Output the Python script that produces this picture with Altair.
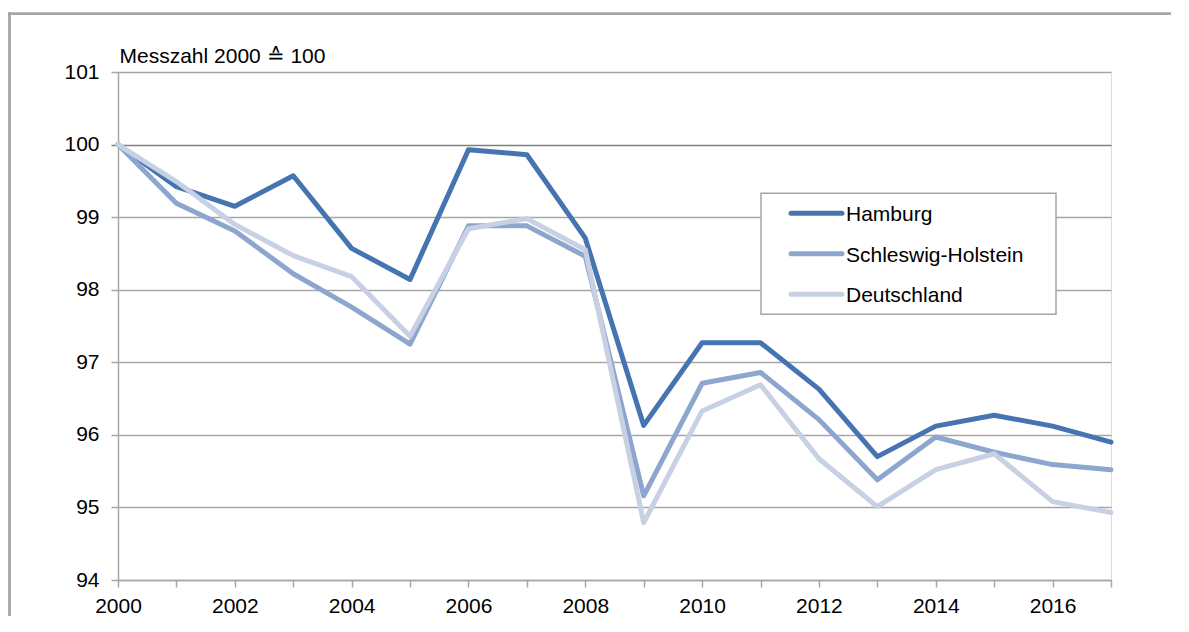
import altair as alt
import pandas as pd

years = list(range(2000, 2018))
hamburg = [100, 99.42, 99.15, 99.57, 98.57, 98.14, 99.93, 99.86, 98.71, 96.13,
           97.27, 97.27, 96.63, 95.70, 96.12, 96.27, 96.12, 95.90]
schleswig_holstein = [100, 99.19, 98.81, 98.22, 97.76, 97.25, 98.88, 98.88, 98.46, 95.16,
                      96.71, 96.86, 96.21, 95.38, 95.97, 95.76, 95.59, 95.52]
deutschland = [100, 99.49, 98.90, 98.47, 98.18, 97.36, 98.84, 98.98, 98.55, 94.79,
               96.33, 96.69, 95.67, 95.01, 95.52, 95.74, 95.08, 94.93]
series_names = ["Hamburg", "Schleswig-Holstein", "Deutschland"]
series_colors = ["#4674b1", "#8da6cd", "#c7d1e3"]
y_ticks = [94, 95, 96, 97, 98, 99, 100, 101]
y_title = "Messzahl 2000 \u2259 100"

FONT = "Liberation Sans"
FS = 21
GRID = "#a6a6a6"

rows = []
for name, vals in zip(series_names, [hamburg, schleswig_holstein, deutschland]):
    for yr, v in zip(years, vals):
        rows.append({"year": yr, "value": v, "series": name})
df = pd.DataFrame(rows)
legend_df = pd.DataFrame({"series": series_names})
one = pd.DataFrame({"k": [0]})

color_scale = alt.Scale(domain=series_names, range=series_colors)

frame_top = alt.Chart(one).mark_rule(stroke=GRID, strokeWidth=2.8).encode(
    x=alt.value(-110), x2=alt.value(1053), y=alt.value(-58.3))
frame_left = alt.Chart(one).mark_rule(stroke=GRID, strokeWidth=2.8).encode(
    x=alt.value(-108.5), y=alt.value(-59.7), y2=alt.value(544))

lines = alt.Chart(df).mark_line(strokeWidth=5, strokeCap="round", strokeJoin="round").encode(
    x=alt.X("year:Q",
            scale=alt.Scale(domain=[2000, 2017], nice=False, zero=False),
            axis=alt.Axis(values=years, format="d",
                          labelExpr="datum.value % 2 == 0 ? datum.label : ''",
                          labelFlush=False, labelOverlap=False,
                          grid=False, tickSize=7, labelPadding=8, title=None,
                          domainColor=GRID, tickColor=GRID, domainWidth=1.5, tickWidth=1.5,
                          labelFontSize=FS, labelColor="#000", labelFont=FONT)),
    y=alt.Y("value:Q",
            scale=alt.Scale(domain=[94, 101], nice=False, zero=False),
            axis=alt.Axis(values=y_ticks, title=y_title, titleAngle=0, titleX=1, titleY=-10,
                          titleAlign="left", titleBaseline="alphabetic", titleFontSize=FS,
                          titleFontWeight="normal", titleColor="#000", titleFont=FONT,
                          grid=True, labelFlush=False,
                          gridColor={"condition": {"test": "datum.value === 100", "value": "#7f7f7f"}, "value": GRID},
                          tickColor={"condition": {"test": "datum.value === 100", "value": "#7f7f7f"}, "value": GRID},
                          gridWidth=1.5, tickWidth=1.5, tickSize=7, labelPadding=12,
                          domainColor=GRID, domainWidth=1.5,
                          labelFontSize=FS, labelColor="#000", labelFont=FONT)),
    color=alt.Color("series:N", scale=color_scale, legend=None),
)

legend_box = alt.Chart(one).mark_rect(
    fill="white", stroke=GRID, strokeWidth=1.5
).encode(x=alt.value(643), x2=alt.value(938), y=alt.value(121.3), y2=alt.value(242.3))

entries = []
for i, name in enumerate(series_names):
    base = alt.Chart(legend_df).transform_filter(alt.datum.series == name)
    entries.append(base.mark_rule(strokeWidth=5, strokeCap="round").encode(
        x=alt.value(673), x2=alt.value(724), y=alt.value(141.3 + 40.5 * i),
        color=alt.Color("series:N", scale=color_scale, legend=None)))
    entries.append(base.mark_text(align="left", baseline="alphabetic", fontSize=FS,
                                  font=FONT, color="#000").encode(
        x=alt.value(728), y=alt.value(149 + 40.5 * i), text="series:N"))

chart = alt.layer(frame_top, frame_left, lines, legend_box, *entries).properties(
    width=993, height=508,
    autosize=alt.AutoSizeParams(type="none"),
    padding={"left": 110, "top": 64, "right": 60, "bottom": 36},
).configure_view(stroke=None).configure(font=FONT)

chart.save("out.html", embed_options={"renderer": "svg", "actions": False})
